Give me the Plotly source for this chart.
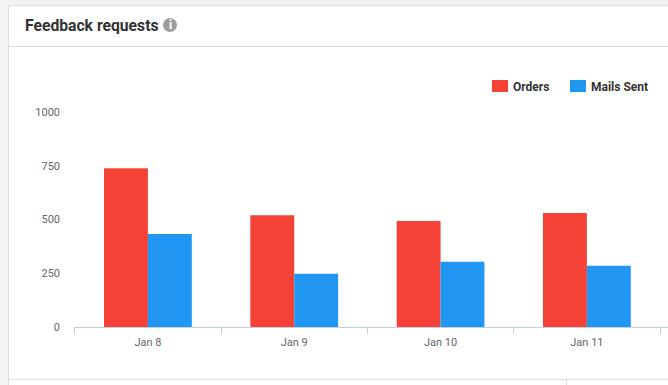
import plotly.graph_objects as go

categories = ["Jan 8", "Jan 9", "Jan 10", "Jan 11"]
orders = [738, 520, 493, 530]
mails_sent = [433, 248, 303, 285]
y_ticks = [0, 250, 500, 750, 1000]

W, H = 668, 385
L, R, T, B = 74, 0, 112, 58
PW, PH = W - L - R, H - T - B
RED, BLUE = "#f44336", "#2196f3"
FONT = "Roboto"


def px(x):
    return (x - L) / PW


def py(y):
    return 1 - (y - T) / PH


def rect(x0, y0, x1, y1, fill, line=None, layer="below"):
    return dict(type="rect", xref="paper", yref="paper", x0=px(x0), x1=px(x1), y0=py(y0), y1=py(y1),
                fillcolor=fill, line=dict(color=line or fill, width=1 if line else 0), layer=layer)


def hline(x0, x1, y, color="#dddddd"):
    return dict(type="line", xref="paper", yref="paper", x0=px(x0), x1=px(x1), y0=py(y), y1=py(y),
                line=dict(color=color, width=1), layer="below")


def text(x, y, s, size, color, anchor="left", weight=None):
    return dict(xref="paper", yref="paper", x=px(x), y=py(y), text=s, showarrow=False, xanchor=anchor,
                yanchor="middle", font=dict(family=FONT, size=size, color=color, weight=weight),
                borderpad=0, borderwidth=0)


fig = go.Figure()
fig.add_bar(name="Orders", x=categories, y=orders, marker=dict(color=RED, line=dict(width=0)))
fig.add_bar(name="Mails Sent", x=categories, y=mails_sent, marker=dict(color=BLUE, line=dict(width=0)))

shapes = [
    rect(8.5, 5.5, 680, 400, "#ffffff", "#dddddd"),
    hline(9, 668, 46.5),
    hline(9, 668, 379.5),
    dict(type="line", xref="paper", yref="paper", x0=px(566.5), x1=px(566.5), y0=py(379), y1=py(385),
         line=dict(color="#dddddd", width=1), layer="below"),
    rect(492, 80, 508, 92, RED, layer="above"),
    rect(570, 80, 586, 92, BLUE, layer="above"),
    dict(type="circle", xref="paper", yref="paper", x0=px(163), x1=px(177), y0=py(18), y1=py(32),
         fillcolor="#9e9e9e", line=dict(width=0), layer="above"),
]
annotations = [
    text(25, 25.5, "Feedback requests", 15.7, "#333333", weight=700),
    text(170, 25, "i", 12, "#ffffff", "center", weight=700),
    text(513, 86.5, "Orders", 12, "#333333", weight=700),
    text(591, 86.5, "Mails Sent", 12, "#333333", weight=700),
]

fig.update_layout(
    width=W, height=H, autosize=False, showlegend=False,
    margin=dict(l=L, r=R, t=T, b=B, pad=0),
    paper_bgcolor="#f3f3f3", plot_bgcolor="rgba(0,0,0,0)",
    barmode="group", bargap=0.4, bargroupgap=0,
    font=dict(family=FONT, size=11, color="#666666"),
    shapes=shapes, annotations=annotations,
    xaxis=dict(type="category", range=[-0.505, PW / 146.33 - 0.505], tickson="boundaries", ticks="outside",
               ticklen=6, tickcolor="#c0d0e0", showline=True, linecolor="#c0d0e0", linewidth=1,
               showgrid=False, zeroline=False, tickfont=dict(size=11, color="#666666"), ticklabelstandoff=5),
    yaxis=dict(range=[0, 1000], tickmode="array", tickvals=y_ticks, ticktext=[str(v) for v in y_ticks],
               showgrid=False, zeroline=False, showline=False, ticks="", ticklabelstandoff=13,
               tickfont=dict(size=11, color="#666666")),
)
fig.write_html("out.html", config=dict(displayModeBar=False),
               post_script="document.body.style.margin='0';document.body.style.overflow='hidden';")
